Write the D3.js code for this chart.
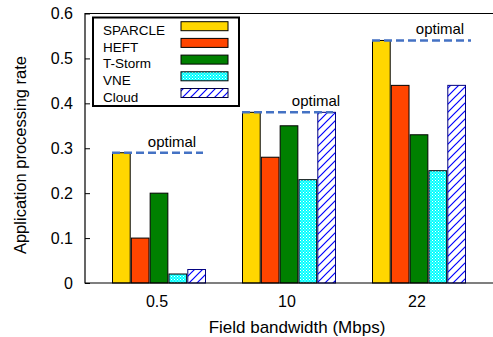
<!DOCTYPE html>
<html><head><meta charset="utf-8">
<script src="https://cdn.jsdelivr.net/npm/d3@7"></script>
<style>body{margin:0;background:#fff}svg{display:block;font-family:"Liberation Sans",Arial,Helvetica,sans-serif}</style>
</head><body>
<svg id="c" width="493" height="337"></svg>
<script>
const categories = ["0.5", "10", "22"];
const seriesNames = ["SPARCLE", "HEFT", "T-Storm", "VNE", "Cloud"];
const sparcle = [0.29, 0.38, 0.54];
const heft = [0.10, 0.28, 0.44];
const tstorm = [0.20, 0.35, 0.33];
const vne = [0.02, 0.23, 0.25];
const cloud = [0.03, 0.38, 0.44];
const optimal = [0.29, 0.38, 0.54];
const yTicks = [0, 0.1, 0.2, 0.3, 0.4, 0.5, 0.6];
const optimalLabel = "optimal";
const xTitle = "Field bandwidth (Mbps)";
const yTitle = "Application processing rate";

const seriesValues = [sparcle, heft, tstorm, vne, cloud];
const seriesFill = ["#FFD700", "#FF4500", "#008000", "url(#dots)", "url(#hatch)"];
const seriesStroke = ["#000", "#000", "#000", "#000", "#000080"];

const svg = d3.select("#c");
const L = 85, T = 13.5, B = 283, R = 493;
const labelDx = [13, 27, 21];

// patterns
const defs = svg.append("defs");
const dots = defs.append("pattern").attr("id", "dots").attr("patternUnits", "userSpaceOnUse")
  .attr("width", 3).attr("height", 3);
dots.append("rect").attr("width", 3).attr("height", 3).attr("fill", "#00FFFF");
dots.append("rect").attr("x", 0).attr("y", 0).attr("width", 1).attr("height", 1).attr("fill", "#fff");
dots.append("rect").attr("x", 1.5).attr("y", 1.5).attr("width", 1).attr("height", 1).attr("fill", "#e8ffff");
const hatch = defs.append("pattern").attr("id", "hatch").attr("patternUnits", "userSpaceOnUse")
  .attr("width", 8).attr("height", 8);
hatch.append("rect").attr("width", 8).attr("height", 8).attr("fill", "#fff");
hatch.append("path").attr("d", "M-2,2 L2,-2 M0,8 L8,0 M6,10 L10,6").attr("stroke", "#0000FF").attr("stroke-width", 1.2);

const y = d3.scaleLinear().domain([0, 0.6]).range([B, T]);
const x = d3.scaleBand().domain(categories).range([94, 484]).paddingInner(0).paddingOuter(0);
const xs = d3.scaleBand().domain(seriesNames).range([-46.5, 46.5]).paddingInner(0.06);

// bars
categories.forEach((c, ci) => {
  const cx = x(c) + x.bandwidth() / 2;
  seriesNames.forEach((s, si) => {
    const v = seriesValues[si][ci];
    svg.append("rect")
      .attr("x", cx + xs(s)).attr("width", xs.bandwidth())
      .attr("y", y(v)).attr("height", B - y(v))
      .attr("fill", seriesFill[si]).attr("stroke", seriesStroke[si]).attr("stroke-width", 1);
  });
});

// optimal lines
categories.forEach((c, ci) => {
  const cx = x(c) + x.bandwidth() / 2;
  svg.append("line").attr("x1", cx - 47).attr("x2", cx + 44 + (ci === 2 ? 8 : 0))
    .attr("y1", y(optimal[ci])).attr("y2", y(optimal[ci]))
    .attr("stroke", "#4472C4").attr("stroke-width", 2.6).attr("stroke-dasharray", "8,4");
  svg.append("text").attr("x", cx + labelDx[ci]).attr("y", y(optimal[ci]) - 6)
    .attr("text-anchor", "middle").attr("font-size", 15).attr("fill", "#000").text(optimalLabel);
});

// frame
svg.append("path").attr("d", `M${R},${T}H${L}V${B}H${R}`).attr("fill", "none").attr("stroke", "#000").attr("stroke-width", 1.2);

// y axis
const yAxis = d3.axisLeft(y).tickValues(yTicks).tickFormat(d => d3.format("")(+d.toFixed(1))).tickSizeInner(-5).tickSizeOuter(0).tickPadding(12);
const ga = svg.append("g").attr("transform", `translate(${L},0)`).call(yAxis);
ga.select(".domain").remove();
ga.selectAll("text").attr("font-size", 16).attr("font-family", null);
ga.selectAll("line").attr("stroke", "#000");

// x axis
const xAxis = d3.axisBottom(x).tickSize(0).tickPadding(0);
const gx = svg.append("g").attr("transform", `translate(-2,${B})`).call(xAxis);
gx.select(".domain").remove();
gx.selectAll("text").attr("font-size", 16).attr("font-family", null).attr("dy", null).attr("y", 23.5);

// titles
svg.append("text").attr("x", 297).attr("y", 332.5).attr("text-anchor", "middle").attr("font-size", 17).text(xTitle);
svg.append("text").attr("transform", "translate(26,155) rotate(-90)").attr("text-anchor", "middle").attr("font-size", 16.5).text(yTitle);

// legend
const lg = svg.append("g");
lg.append("rect").attr("x", 93).attr("y", 17.5).attr("width", 146).attr("height", 88.5)
  .attr("fill", "#fff").attr("stroke", "#000").attr("stroke-width", 2);
seriesNames.forEach((s, si) => {
  const by = 35 + si * 16.7;
  lg.append("text").attr("x", 103).attr("y", by).attr("font-size", 13.5).text(s);
  lg.append("rect").attr("x", 181).attr("y", by - 13.3).attr("width", 47).attr("height", 9)
    .attr("fill", seriesFill[si]).attr("stroke", si === 4 ? "#000040" : "#000").attr("stroke-width", 1);
});
</script>
</body></html>
